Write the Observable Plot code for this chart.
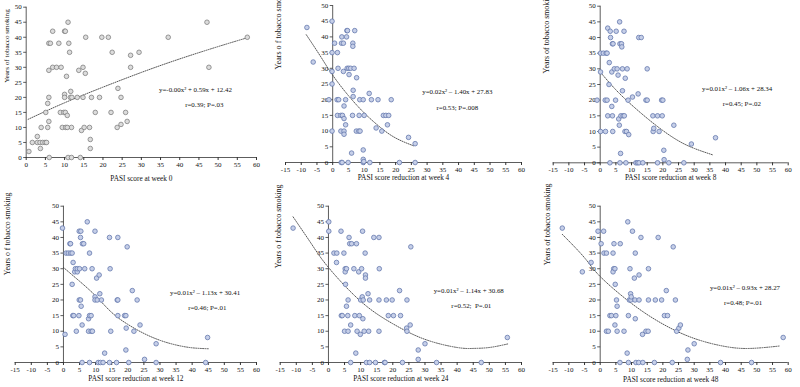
<!DOCTYPE html>
<html><head><meta charset="utf-8">
<script src="https://cdn.jsdelivr.net/npm/d3@7"></script>
<script src="https://cdn.jsdelivr.net/npm/@observablehq/plot@0.6"></script>
<style>
body{margin:0;background:#fff;}
#wrap{position:relative;width:800px;height:387px;overflow:hidden;background:#fff;}
#wrap svg{position:absolute;overflow:visible;}
</style></head><body><div id="wrap"></div>
<script>
// ---------- data ----------
const yTicks = [0, 5, 10, 15, 20, 25, 30, 35, 40, 45, 50];
const xTicksWeek0 = [0, 5, 10, 15, 20, 25, 30, 35, 40, 45, 50, 55, 60];
const xTicksReduction = [-15, -10, -5, 0, 5, 10, 15, 20, 25, 30, 35, 40, 45, 50, 55, 60];

const week0 = [[0.7,2],[1.6,5],[2.9,7],[2.9,5],[3.6,5],[3.9,10],[3.7,3],[4.3,5],[4.9,5],[5.3,5],[5.1,15],[5.6,18],[5.6,10],[5.9,20],[5.9,12],[5.9,38],[6.3,38],[5.9,29],[6,0],[6.9,42],[6.9,30],[7.9,30],[8.5,38],[9.1,30],[8.9,15],[9.8,15],[10,42],[10.2,42],[10,21],[10,20],[9.4,10],[10.3,10],[10.2,15],[10.5,27],[10.7,14],[10.9,45],[11.1,38],[11.3,35],[11.6,22],[11.5,20],[11.9,20],[10.9,0],[11.8,0],[11.8,10],[10.7,10],[13.3,20],[13.7,29],[14.1,0],[14.4,9],[14.8,30],[14.8,20],[15.1,10],[15.4,28],[15.5,40],[16.5,10],[16.7,6],[16.7,3],[17,20],[18,15],[19.1,20],[19.7,40],[21.4,40],[22.1,15],[22.4,35],[23.9,23],[23.7,10],[24.7,20],[24.7,11],[25.9,15],[26.3,12],[27.2,34],[27.2,30],[29.4,35],[37,40],[47.1,45],[47.6,30],[57.6,40]];

const week4 = [[-8.2,43],[-6.2,32],[-1.2,20],[-0.2,45],[-0.2,35],[-0.2,29],[-0.2,25],[-0.2,10],[0.6,38],[1.5,35],[1.4,20],[1.7,30],[1.9,20],[1.5,15],[2.6,15],[2.8,38],[2.9,40],[2.6,10],[2.7,0],[3,0],[3.1,15],[3.4,38],[3.4,29],[3.6,14],[3.6,18],[3.6,10],[3.6,9],[4.1,20],[4.1,12],[4.4,40],[4.5,42],[4.7,42],[4.6,30],[4.9,0],[5.1,30],[5.2,28],[5.7,30],[6,3],[6.3,15],[6.4,38],[6.4,37],[6.5,23],[6.5,21],[6.8,30],[7,42],[7.5,10],[7.6,27],[8.3,10],[8.6,20],[8.4,15],[8.7,10],[9.7,20],[9.7,4],[9.7,1],[9.7,0],[9.9,0.3],[10,15],[11.6,22],[11.8,0],[12.3,20],[14.4,20],[13.8,11],[15.6,10],[16.1,15],[16.9,15],[17.4,12],[17.8,15],[18.6,20],[21.2,0],[24.1,8],[26.2,6],[26.2,0]];

const week8 = [[-1,20],[0.1,35],[0.1,10],[0.1,29],[1,35],[1.6,20],[1.7,10],[1.9,35],[2.2,35],[2.4,43],[2.4,15],[2.9,32],[2.8,25],[2.2,20],[3.2,42],[3.3,40],[3.1,0],[3.7,18],[3.7,29],[3.9,38],[4.1,38],[3.9,15],[4,10],[4.5,30],[4.9,20],[5.1,42],[5.4,30],[5.7,28],[5.9,14],[6.1,12],[6.2,45],[6.3,38],[6.3,0],[6.5,3],[6.6,15],[6.8,38],[6.9,37],[7.1,23],[7.1,30],[7.3,15],[7.6,42],[7.7,15],[7.9,10],[8,27],[8.2,0],[8.4,10],[8.6,30],[8.9,20],[9.1,9],[10.3,21],[11.4,0],[11.9,0],[12.1,22],[12.3,40],[13.1,40],[12.4,0],[13.6,0],[14.6,20],[15,30],[15,20],[16.8,15],[16.9,10],[17.1,11],[18.3,15],[18.3,0],[18.8,10],[19.6,20],[20,20],[19.8,15],[20.3,4],[20.4,1],[21.9,0],[23.5,12],[26.7,0],[29.1,6],[36.8,8]];

const week12 = [[-0.3,43],[0.5,9],[0.8,35],[1.5,35],[2,38],[2.2,38],[2.2,35],[2.7,35],[2.7,25],[3,32],[2.9,15],[3.2,15],[3.5,29],[3.7,30],[4,10],[4.3,29],[4.3,30],[4.8,15],[4.9,20],[4.9,42],[5,30],[5.3,40],[5.4,42],[5.3,20],[5.5,18],[5.8,0],[5.8,12],[5.9,38],[6.3,38],[6.6,30],[7.4,45],[7.8,14],[7.8,10],[8.1,15],[8.1,35],[8.1,0],[8.6,15],[8.6,10],[8.9,30],[9,10],[9.8,42],[9.8,21],[9.8,20],[10.3,27],[10.5,20],[10.8,0],[11.1,28],[11.3,22],[11.5,0],[11.8,20],[12.3,0],[12.8,3],[14.3,40],[14.3,0],[14.5,30],[14.7,10],[16.5,0],[16.7,20],[16.9,20],[16.9,40],[16.9,15],[19,15],[19.4,15],[19.4,4],[19.5,11],[19.8,37],[20.3,0],[21.4,23],[21.9,10],[22.9,20],[23.8,12],[25.2,1],[28.8,6],[28.8,0],[44.2,0],[44.8,8]];

const week24 = [[-11,43],[0.1,45],[0.1,42],[1.7,35],[2.5,32],[2.6,35],[3.9,42],[4,15],[4.3,15],[4.8,35],[5,10],[5.2,30],[5.2,29],[5.3,25],[5.6,18],[5.6,30],[6,15],[6.1,20],[6.1,10],[6.4,40],[6.6,38],[6.9,12],[6.9,0],[7.2,38],[7.9,30],[8.2,15],[8.5,3],[8.7,38],[8.9,10],[9.4,29],[9.6,15],[9.9,9],[10,20],[10.3,30],[10.7,14],[10.6,42],[10.5,21],[10.8,20],[11.1,10],[11.4,35],[11.5,28],[11.5,27],[11.8,0],[12.3,22],[12.5,10],[12.8,20],[12.8,0],[14.1,40],[14.6,0],[15.7,40],[15.7,20],[15.7,10],[15.8,30],[17.4,0],[17.6,0],[18,20],[18.6,15],[19.8,20],[20.2,15],[22.1,23],[22.4,15],[23,0],[24.3,11],[24.4,10],[24.4,20],[25.4,12],[25.6,37],[27.9,4],[27.9,1],[30,6],[33.6,0],[47.5,0],[55.6,8]];

const week48 = [[-12.1,43],[-5.7,29],[-2.9,32],[-0.7,42],[0.3,38],[1.1,42],[1.2,35],[2,35],[2,10],[2.6,10],[3.1,15],[3.6,15],[4.1,35],[4.3,30],[4.1,29],[4.4,38],[4.7,30],[4.8,25],[4.7,12],[5,15],[5.2,20],[5.4,18],[5.4,10],[6.3,0],[6.4,38],[7.6,10],[8.6,3],[8.8,45],[9,0],[9,15],[9.3,20],[9.5,30],[9.8,20],[9.7,22],[9.9,21],[10.3,42],[10.9,27],[11.2,14],[11.2,35],[11.1,20],[11.4,0],[12.3,0],[12.4,28],[12.4,20],[13,40],[13.5,9],[13.6,0],[14.6,10],[15.3,10],[15.4,30],[15.4,20],[17.3,0],[17.6,20],[18.5,40],[19.6,20],[20.5,15],[21.1,23],[21.5,15],[23,0],[23.3,37],[24,20],[24.4,10],[25.1,11],[25.6,12],[28,4],[27.8,1],[30,6],[38.4,0],[48.3,0],[58.4,8]];

// dotted fitted curves
const curve0 = [[0.5,12.7],[10,18.2],[20,23.4],[30,28.3],[40,32.8],[50,36.9],[57.5,39.8]];
const curve4 = [[-8.4,40.7],[-4,34],[0,27.8],[5,21.3],[10,15.8],[15,11.3],[20,7.8],[26,5.2]];
const curve8 = [[0,29],[5,23.3],[10,18.5],[15,14.2],[20,10.3],[25,7],[30,4.6],[36,2.5]];
const curve12 = [[0,30.4],[5,26],[10,21.3],[15,16],[20,12.2],[25,9.3],[30,7.1],[35,5.6],[40,4.7],[45,4.4]];
const curve24 = [[-11,46.6],[-5,37.5],[0,30.4],[10,19.6],[20,12.4],[30,7.4],[40,4.8],[45,4.5],[50,4.8],[56,6]];
const curve48 = [[-12.1,41],[-5,33.5],[0,27.5],[10,18.9],[20,12.3],[30,7.7],[40,5.1],[48,4.5],[57.5,5.3]];

const xLabels = ["PASI score at week 0","PASI score reduction at week 4","PASI score reduction at week 8","PASI score reduction at week 12","PASI score reduction at week 24","PASI score reduction at week 48"];
const yLabels = ["Years of tobacco smoking","Years o f tobacco smoking","Years of tobacco smoking","Years o f tobacco smoking","Years o f tobacco smoking","Years of tobacco smoking"];
const equations = ["y=-0.00x\u00b2 + 0.59x + 12.42","y=0.02x\u00b2 \u2013 1.40x + 27.83","y=0.01x\u00b2 \u2013 1.06x + 28.34","y=0.01x\u00b2 \u2013 1.13x + 30.41","y=0.01x\u00b2 \u2013 1.14x + 30.68","y=0.01x\u00b2 \u2013 0.93x + 28.27"];
const stats = ["r=0.39; P=.03","r=0.53; P=.008","r=0.45; P=.02","r=0.46; P=.01","r=0.52;  P=.01","r=0.48; P=.01"];
// annotation anchor points (data coords)
const eqAt = [[44.1,22.5],[39.6,22.6],[43.7,23.5],[44,22.4],[43.6,22.9],[46.2,24]];
const statAt = [[46.4,17.5],[39.6,17.5],[45.2,18.8],[44.7,17.4],[44.4,18],[45.6,19.1]];

// ---------- layout ----------
const layout = [
  {left:0,   top:0,   w:265, h:192, ml:25.7, mr:9,    mt:6.7,  mb:35,   xl:23, yl:-19.7, yly:0.5,  yfs:7.1},
  {left:265, top:0,   w:265, h:192, ml:20,   mr:9,    mt:5,    mb:30,   xl:17.3, yl:-7,  yly:-14.5, yfs:8.1},
  {left:530, top:0,   w:270, h:192, ml:22.7, mr:12.3, mt:5.7,  mb:29.7, xl:17, yl:-6.7,  yly:-11,  yfs:7.9},
  {left:0,   top:192, w:265, h:195, ml:14.7, mr:9,    mt:13.7, mb:25,   xl:18, yl:-7.7,  yly:-9,   yfs:7.8},
  {left:265, top:192, w:265, h:195, ml:14.7, mr:9,    mt:13.7, mb:25,   xl:18, yl:-2,    yly:-16,  yfs:7.9},
  {left:530, top:192, w:270, h:195, ml:22.7, mr:12.3, mt:13.7, mb:25,   xl:19, yl:-5.7,  yly:-19,  yfs:7.9}
];
const pointSets = [week0, week4, week8, week12, week24, week48];
const curves = [curve0, curve4, curve8, curve12, curve24, curve48];

const FONT = '"Liberation Serif", "DejaVu Serif", serif';
const AX = "#333";
const tickSymbol = {draw(ctx){ ctx.moveTo(0,0); ctx.lineTo(-3,0); }};

const wrap = document.getElementById("wrap");
pointSets.forEach((pts, i) => {
  const L = layout[i];
  const first = i === 0;
  const xDomain = first ? [0, 60] : [-15, 60];
  const xt = first ? xTicksWeek0 : xTicksReduction;
  const dotStroke = first ? "#808080" : "#6478ad";
  const dotFill = first ? "#dcdcdc" : "#c6cfe8";
  const svg = Plot.plot({
    width: L.w, height: L.h,
    marginLeft: L.ml, marginRight: L.mr, marginTop: L.mt, marginBottom: L.mb,
    x: {domain: xDomain},
    y: {domain: [0, 50], axis: null},
    style: {fontFamily: FONT, fontSize: "7px", color: "#111", background: "transparent", overflow: "visible"},
    marks: [
      Plot.axisX({ticks: xt, tickSize: 3, tickPadding: 1.2, tickFormat: d => String(d), label: null, fontSize: 7, stroke: AX}),
      Plot.ruleY([0], {stroke: AX, strokeWidth: 0.8}),
      Plot.ruleX([0], {stroke: AX, strokeWidth: 0.8}),
      Plot.dot(yTicks, {x: 0, y: d => d, symbol: tickSymbol, r: 3, stroke: AX, strokeWidth: 0.8}),
      Plot.text(yTicks, {x: 0, y: d => d, text: d => String(d), dx: -4.5, textAnchor: "end", fontSize: 7, fill: "#111"}),
      Plot.line(curves[i], {x: d => d[0], y: d => d[1], curve: "natural", stroke: "#444", strokeWidth: 0.9, strokeDasharray: "1,1.3"}),
      Plot.dot(pts, {x: d => d[0], y: d => d[1], r: 2.3, stroke: dotStroke, fill: dotFill, strokeWidth: 0.8}),
      Plot.text([equations[i]], {x: eqAt[i][0], y: eqAt[i][1], text: d => d, fontSize: 6.9, fill: "#111", ariaLabel: "eqtext"}),
      Plot.text([stats[i]], {x: statAt[i][0], y: statAt[i][1], text: d => d, fontSize: 6.9, fill: "#111", ariaLabel: "eqtext"}),
      Plot.text([xLabels[i]], {frameAnchor: "bottom", dy: L.xl, text: d => d, fontSize: 7.3, fill: "#111"}),
      Plot.text([yLabels[i]], {frameAnchor: "left", dx: L.yl, dy: L.yly, rotate: -90, text: d => d, fontSize: L.yfs, fill: "#111"})
    ]
  });
  svg.style.left = L.left + "px";
  svg.style.top = L.top + "px";
  // italicise variable letters in annotations
  d3.select(svg).selectAll('g[aria-label="eqtext"] text').each(function() {
    const el = d3.select(this);
    const s = el.text();
    el.text(null);
    const runs = [];
    for (const ch of s) {
      const it = /[xyrP]/.test(ch);
      if (runs.length && runs[runs.length - 1].it === it) runs[runs.length - 1].t += ch;
      else runs.push({t: ch, it});
    }
    runs.forEach(r => el.append("tspan").attr("font-style", r.it ? "italic" : null).text(r.t));
  });
  wrap.appendChild(svg);
});
</script></body></html>
